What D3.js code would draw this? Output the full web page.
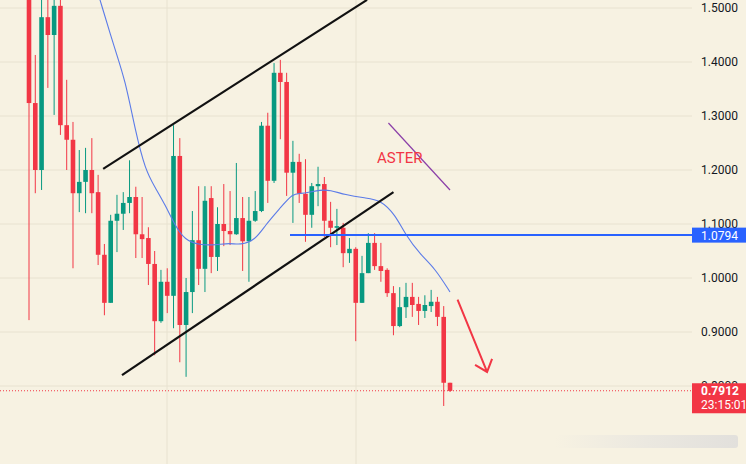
<!DOCTYPE html><html><head><meta charset="utf-8"><script src="https://cdn.jsdelivr.net/npm/d3@7"></script>
<style>body{margin:0;background:#f7f2e2}svg{display:block}</style></head><body><svg id="c" width="746" height="464"></svg><script>
const opens=[1.533,1.324,1.200,1.483,1.450,1.504,1.283,1.256,1.157,1.178,1.200,1.159,1.043,0.954,1.106,1.119,1.139,1.150,1.081,1.074,1.026,0.920,0.993,0.967,1.226,0.913,0.974,1.070,1.017,1.148,1.039,1.100,1.087,1.081,1.111,1.068,1.106,1.124,1.282,1.180,1.380,1.363,1.195,1.215,1.156,1.117,1.170,1.174,1.106,1.093,1.093,1.046,1.054,0.954,1.009,1.065,1.022,1.015,0.972,0.911,0.946,0.965,0.952,0.939,0.948,0.956,0.928,0.806];
const highs=[1.552,1.413,1.515,1.515,1.515,1.515,1.367,1.289,1.237,1.241,1.259,1.191,1.063,1.117,1.154,1.159,1.218,1.169,1.150,1.094,1.050,1.015,1.018,1.283,1.259,1.000,1.124,1.170,1.170,1.170,1.131,1.174,1.161,1.213,1.150,1.150,1.161,1.289,1.306,1.398,1.404,1.380,1.254,1.230,1.220,1.176,1.206,1.187,1.141,1.128,1.102,1.074,1.057,1.041,1.083,1.083,1.065,1.018,0.985,0.983,0.991,0.991,0.965,0.968,0.978,0.965,0.948,0.806];
const lows=[0.922,1.157,1.163,1.352,1.302,1.265,1.200,1.018,1.122,1.120,1.120,1.024,0.931,0.954,1.048,1.089,1.120,1.037,1.037,0.987,0.857,0.917,0.935,0.907,0.844,0.817,0.935,0.987,0.974,1.009,1.013,1.059,1.061,1.080,1.013,0.993,1.104,1.122,1.139,1.176,1.257,1.152,1.102,1.139,1.067,1.093,1.133,1.076,1.057,1.061,1.020,1.028,0.883,0.954,1.009,1.015,0.993,0.965,0.894,0.909,0.926,0.928,0.913,0.926,0.937,0.911,0.763,0.789];
const closes=[1.324,1.200,1.483,1.450,1.504,1.283,1.256,1.157,1.178,1.200,1.157,1.043,0.954,1.106,1.119,1.139,1.150,1.081,1.072,1.026,0.920,0.993,0.967,1.226,0.913,0.974,1.070,1.017,1.143,1.039,1.100,1.087,1.081,1.111,1.068,1.106,1.124,1.282,1.180,1.380,1.363,1.195,1.215,1.156,1.117,1.170,1.174,1.106,1.093,1.096,1.046,1.054,0.954,1.009,1.065,1.022,1.013,0.972,0.911,0.946,0.965,0.950,0.939,0.950,0.956,0.928,0.806,0.791];
const maIdx=[11.3,13.7,15.3,16.9,18.5,20.1,21.7,23.2,24.8,27.2,29.6,32.0,33.6,36.0,37.6,40.0,42.0,43.2,44.7,46.3,47.9,50.3,53.5,55.9,58.3,59.9,62.3,64.6,67.0];
const maVal=[1.515,1.422,1.367,1.274,1.200,1.167,1.135,1.098,1.070,1.061,1.061,1.065,1.061,1.070,1.098,1.130,1.157,1.156,1.159,1.163,1.163,1.154,1.148,1.145,1.117,1.080,1.043,1.018,0.974];
const ticks=[1.5,1.4,1.3,1.2,1.1,1.0,0.9,0.8];
const levelPrice=1.0794, lastPrice=0.7912, timer="23:15:01";
const upperLine=[[11.8,1.202],[53.8,1.515]], lowerLine=[[14.8,0.820],[58.0,1.159]];
const purpleLine=[[57.2,1.287],[67.0,1.163]], arrowLine=[[68.2,0.960],[72.9,0.826]];

const svg=d3.select("#c");
const x=d3.scaleLinear().domain([0,67]).range([29,450]);
const y=d3.scaleLinear().domain([1.5,0.8]).range([8,386]);
const W=692;
svg.append("rect").attr("width",746).attr("height",464).attr("fill","#f7f2e2");
svg.append("defs").append("clipPath").attr("id","cp").append("rect").attr("width",W).attr("height",464);
const g=svg.append("g").attr("clip-path","url(#cp)");
ticks.forEach(t=>g.append("line").attr("x1",0).attr("x2",W).attr("y1",y(t)).attr("y2",y(t)).attr("stroke","#e8e2d0").attr("stroke-width",1));
[167,356].forEach(px=>g.append("line").attr("x1",px).attr("x2",px).attr("y1",0).attr("y2",464).attr("stroke","#e8e2d0"));
const data=opens.map((o,i)=>({i,o,h:highs[i],l:lows[i],c:closes[i]}));
const col=d=>d.c>=d.o?"#089981":"#f23645";
g.selectAll(".w").data(data).join("line").attr("x1",d=>x(d.i)).attr("x2",d=>x(d.i)).attr("y1",d=>y(d.h)).attr("y2",d=>y(d.l)).attr("stroke",col).attr("stroke-width",1);
g.selectAll(".b").data(data).join("rect").attr("x",d=>x(d.i)-2.3).attr("width",4.6).attr("y",d=>y(Math.max(d.o,d.c))).attr("height",d=>Math.max(1,Math.abs(y(d.o)-y(d.c)))).attr("fill",col);
const line=d3.line().x(d=>x(d[0])).y(d=>y(d[1]));
g.append("path").attr("d",d3.line().curve(d3.curveBasis).x((d,i)=>x(maIdx[i])).y(d=>y(d))(maVal)).attr("fill","none").attr("stroke","#5b7be8").attr("stroke-width",1.1);
[upperLine,lowerLine].forEach(l=>g.append("path").attr("d",line(l)).attr("stroke","#111").attr("stroke-width",2.2).attr("fill","none"));
g.append("path").attr("d",line(purpleLine)).attr("stroke","#8b3fa8").attr("stroke-width",1.2);
g.append("line").attr("x1",290).attr("x2",W).attr("y1",y(levelPrice)).attr("y2",y(levelPrice)).attr("stroke","#2962ff").attr("stroke-width",2);
g.append("line").attr("x1",0).attr("x2",W).attr("y1",y(lastPrice)).attr("y2",y(lastPrice)).attr("stroke","#f23645").attr("stroke-dasharray","1,2");
const a1=[x(arrowLine[0][0]),y(arrowLine[0][1])],a2=[x(arrowLine[1][0]),y(arrowLine[1][1])];
g.append("path").attr("d",`M${a1}L${a2}M${a2[0]-12},${a2[1]-7}L${a2}L${a2[0]+5},${a2[1]-13}`).attr("stroke","#f23645").attr("stroke-width",2).attr("fill","none");
g.append("text").attr("x",377).attr("y",163).text("ASTER").attr("fill","#f23645").attr("font-family","Roboto, sans-serif").attr("font-size",15);
ticks.forEach(t=>svg.append("text").attr("x",701).attr("y",y(t)+4).text(t.toFixed(4)).attr("font-family","Roboto, 'Liberation Sans', sans-serif").attr("font-size",12).attr("fill","#131722"));
svg.append("rect").attr("x",692).attr("y",y(levelPrice)-7.5).attr("width",54).attr("height",15).attr("fill","#2962ff");
svg.append("text").attr("x",701).attr("y",y(levelPrice)+4.5).text(levelPrice.toFixed(4)).attr("font-family","Roboto, sans-serif").attr("font-size",12).attr("fill","#fff");
svg.append("rect").attr("x",692).attr("y",y(lastPrice)-7.5).attr("width",54).attr("height",30).attr("fill","#f23645");
svg.append("text").attr("x",701).attr("y",y(lastPrice)+4.5).text(lastPrice.toFixed(4)).attr("font-family","Roboto, sans-serif").attr("font-size",12).attr("font-weight","bold").attr("fill","#fff");
svg.append("text").attr("x",701).attr("y",y(lastPrice)+18.5).text(timer).attr("font-family","Roboto, sans-serif").attr("font-size",12).attr("fill","#fff");
const gr=svg.append("defs").append("linearGradient").attr("id","sg");
gr.append("stop").attr("offset","0").attr("stop-color","#f7f2e2");gr.append("stop").attr("offset","0.5").attr("stop-color","#ebe8e0");gr.append("stop").attr("offset","1").attr("stop-color","#e2e0dc");
svg.append("rect").attr("x",555).attr("y",435).attr("width",183).attr("height",13).attr("rx",3).attr("fill","url(#sg)");
</script></body></html>
